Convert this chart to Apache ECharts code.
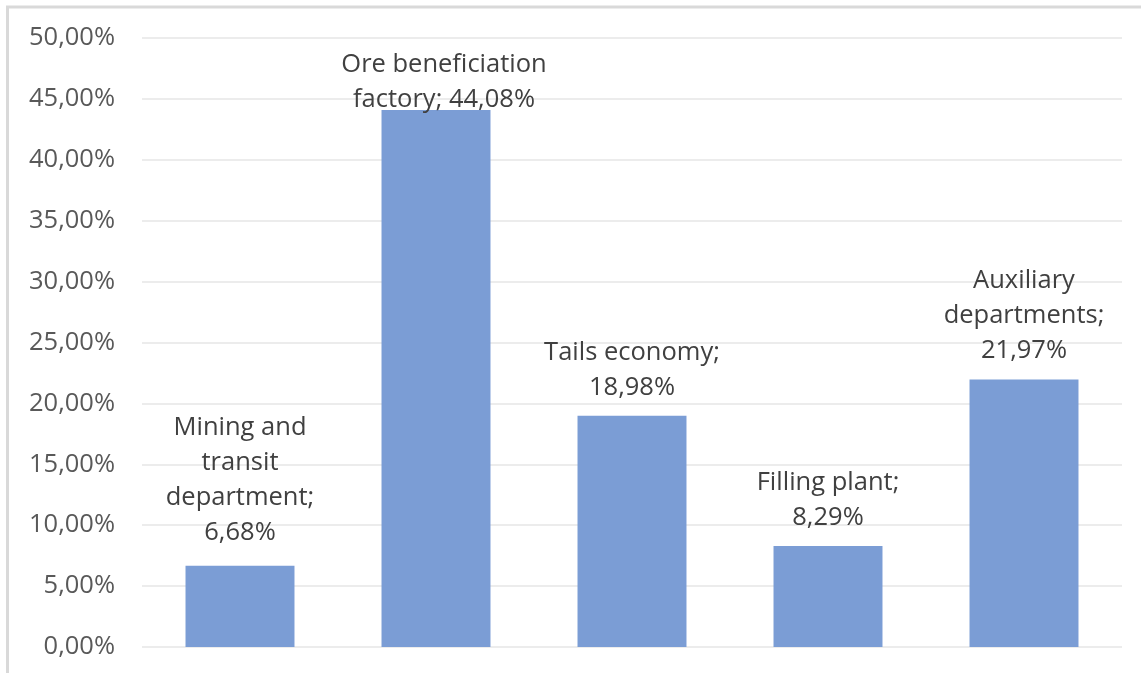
<!DOCTYPE html>
<html>
<head>
<meta charset="utf-8">
<script src="https://cdn.jsdelivr.net/npm/echarts@6/dist/echarts.min.js"></script>
<style>
  html, body { margin: 0; padding: 0; background: #fff; }
  #chart { width: 1141px; height: 673px; }
</style>
</head>
<body>
<div id="chart"></div>
<script>
// Share of each department, percent
const categories = [
  'Mining and\ntransit\ndepartment',
  'Ore beneficiation\nfactory',
  'Tails economy',
  'Filling plant',
  'Auxiliary\ndepartments'
];
const shares = [6.68, 44.08, 18.98, 8.29, 21.97];
const yTicks = [0, 5, 10, 15, 20, 25, 30, 35, 40, 45, 50];

const fmt = v => v.toFixed(2).replace('.', ',') + '%';
const FONT = 'Open Sans';
const FONT_SIZE = 25.5;

// Per-bar label tweaks: the tallest bar keeps its label inside the plot area
const labelTweaks = {
  0: { distance: 15 },
  1: { distance: -7, offset: [8, 0] }
};

const barData = shares.map((v, i) => {
  const item = { value: v };
  if (labelTweaks[i]) item.label = labelTweaks[i];
  return item;
});

const chart = echarts.init(document.getElementById('chart'));
chart.setOption({
  animation: false,
  backgroundColor: '#fff',
  grid: { left: 142, right: 19, top: 38, bottom: 26 },
  xAxis: {
    type: 'category',
    data: categories,
    axisLine: { show: false },
    axisTick: { show: false },
    axisLabel: { show: false }
  },
  yAxis: {
    type: 'value',
    min: yTicks[0],
    max: yTicks[yTicks.length - 1],
    interval: yTicks[1] - yTicks[0],
    axisLine: { show: false },
    axisTick: { show: false },
    splitLine: { lineStyle: { color: '#ececec', width: 2 } },
    axisLabel: {
      margin: 27,
      formatter: fmt,
      color: '#595959',
      fontFamily: FONT,
      fontSize: FONT_SIZE
    }
  },
  series: [{
    type: 'bar',
    data: barData,
    barWidth: '55.6%',
    itemStyle: { color: '#7b9dd5' },
    label: {
      show: true,
      position: 'top',
      distance: 11,
      align: 'center',
      color: '#404040',
      fontFamily: FONT,
      fontSize: FONT_SIZE,
      lineHeight: 35,
      formatter: p => {
        // Ore beneficiation label keeps the value on the same line as the name
        if (p.dataIndex === 1) return p.name + '; ' + fmt(p.value);
        return p.name + ';\n' + fmt(p.value);
      }
    }
  }],
  graphic: [
    { type: 'line', shape: { x1: 7.5, y1: 6, x2: 7.5, y2: 673 }, style: { stroke: '#d9d9d9', lineWidth: 3 } },
    { type: 'line', shape: { x1: 6, y1: 7, x2: 1141, y2: 7 }, style: { stroke: '#d9d9d9', lineWidth: 3 } }
  ]
});
</script>
</body>
</html>
